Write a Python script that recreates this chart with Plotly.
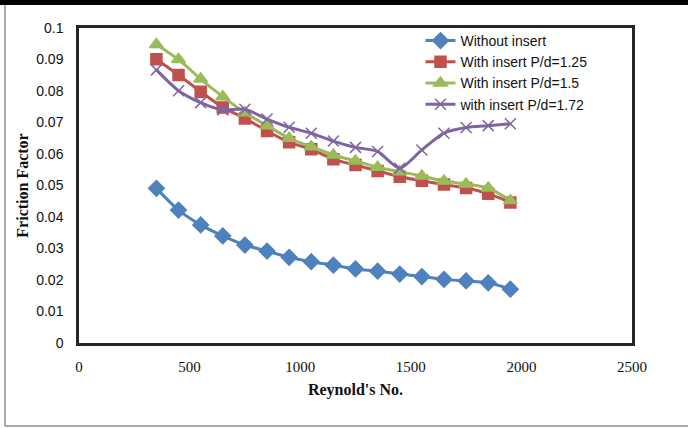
import plotly.graph_objects as go

reynolds = [350, 450, 550, 650, 750, 850, 950, 1050, 1150, 1250, 1350, 1450, 1550, 1650, 1750, 1850, 1950]
without_insert = [0.0491, 0.0422, 0.0375, 0.0340, 0.0311, 0.0292, 0.0272, 0.0258, 0.0247, 0.0235, 0.0228, 0.0219, 0.0211, 0.0202, 0.0197, 0.0191, 0.0171]
insert_125 = [0.0901, 0.0851, 0.0798, 0.0748, 0.0713, 0.0673, 0.0637, 0.0615, 0.0583, 0.0565, 0.0546, 0.0528, 0.0515, 0.0503, 0.0492, 0.0474, 0.0446]
insert_15 = [0.0948, 0.0900, 0.0838, 0.0782, 0.0731, 0.0690, 0.0650, 0.0623, 0.0597, 0.0578, 0.0558, 0.0544, 0.0530, 0.0514, 0.0505, 0.0492, 0.0452]
insert_172 = [0.0867, 0.0801, 0.0763, 0.0740, 0.0742, 0.0711, 0.0685, 0.0666, 0.0641, 0.0621, 0.0608, 0.0555, 0.0613, 0.0666, 0.0684, 0.0690, 0.0696]

series = [
    ("Without insert", without_insert, "#4F81BD", "diamond", 12),
    ("With insert P/d=1.25", insert_125, "#C0504D", "square", 11),
    ("With insert P/d=1.5", insert_15, "#9BBB59", "triangle-up", 12),
    ("with insert P/d=1.72", insert_172, "#8064A2", "x-thin", 11),
]

fig = go.Figure()
for name, vals, color, sym, size in series:
    fig.add_trace(go.Scatter(
        x=reynolds, y=vals, name=name, mode="lines+markers",
        line=dict(color=color, width=3, shape="spline", smoothing=0.7),
        marker=dict(symbol=sym, size=size, color=color,
                    line=dict(color=color, width=1.5)),
    ))

fig.update_layout(
    width=688, height=428,
    margin=dict(l=79, r=56, t=28, b=85),
    paper_bgcolor="white", plot_bgcolor="white",
    showlegend=True,
    legend=dict(x=0.6175, y=1.0095, xanchor="left", yanchor="top",
                bgcolor="rgba(0,0,0,0)", tracegroupgap=0,
                font=dict(family="Liberation Sans", size=14, color="#111")),
    xaxis=dict(range=[0, 2500], tickvals=[0, 500, 1000, 1500, 2000, 2500],
               showgrid=False, zeroline=False, ticks="", ticklabelstandoff=8,
               showline=True, mirror=True, linecolor="#262626", linewidth=2.5,
               tickfont=dict(family="Liberation Serif", size=15, color="#111"),
               title=dict(text="<b>Reynold's No.</b>", standoff=11,
                          font=dict(family="Liberation Serif", size=16, color="#111"))),
    yaxis=dict(range=[0, 0.1], tickvals=[0, 0.01, 0.02, 0.03, 0.04, 0.05, 0.06, 0.07, 0.08, 0.09, 0.1],
               ticktext=["0", "0.01", "0.02", "0.03", "0.04", "0.05", "0.06", "0.07", "0.08", "0.09", "0.1"],
               showgrid=False, zeroline=False, ticks="", ticklabelstandoff=10,
               showline=True, mirror=True, linecolor="#262626", linewidth=2.5,
               tickfont=dict(family="Liberation Sans", size=14, color="#111"),
               title=dict(text="<b>Friction Factor</b>", standoff=4,
                          font=dict(family="Liberation Serif", size=16, color="#111"))),
)

def px_x(x):
    return (x - 79) / 553

def px_y(y):
    return (343 - y) / 315

shapes = [
    dict(type="rect", xref="paper", yref="paper", x0=px_x(-2), x1=px_x(690),
         y0=px_y(5), y1=px_y(-2), fillcolor="black", line=dict(width=0), layer="above"),
    dict(type="line", xref="paper", yref="paper", x0=px_x(5), x1=px_x(5),
         y0=px_y(5), y1=px_y(426), line=dict(color="#8c8c8c", width=1.5)),
    dict(type="line", xref="paper", yref="paper", x0=px_x(5), x1=px_x(690),
         y0=px_y(426), y1=px_y(426), line=dict(color="#8c8c8c", width=1.5)),
]
fig.update_layout(shapes=shapes)

fig.write_html("out.html", config={"displayModeBar": False},
               post_script="document.body.style.margin='0';document.body.style.overflow='hidden';")
